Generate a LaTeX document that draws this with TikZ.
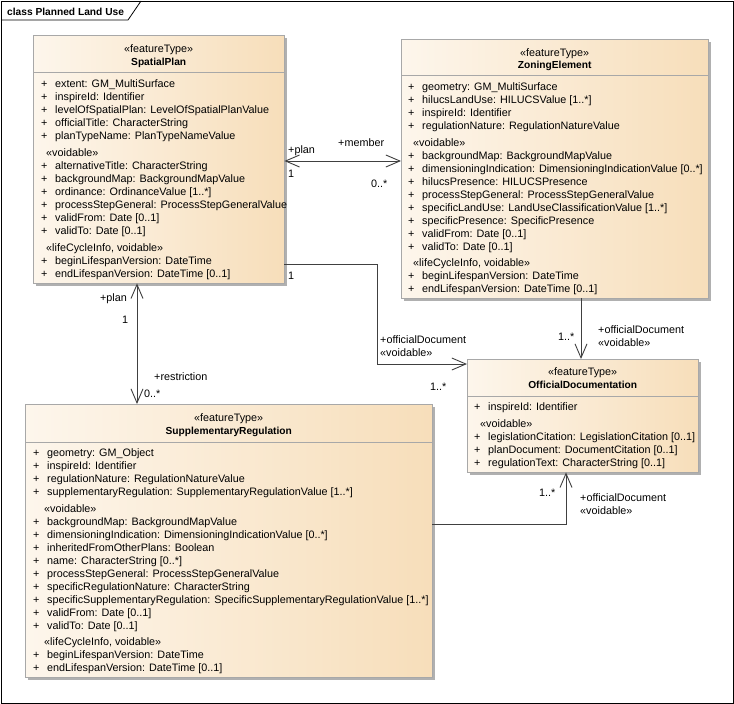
\documentclass[tikz,border=0pt]{standalone}
\usepackage{fontspec}
\setmainfont{Liberation Sans}
\usetikzlibrary{calc, positioning, shadows, arrows.meta}
\definecolor{boxleft}{HTML}{FDF6EC}
\definecolor{boxright}{HTML}{F7DEBA}
\definecolor{boxline}{HTML}{A8A8A8}
\definecolor{shadowgray}{HTML}{B0B0B0}
\definecolor{assocline}{HTML}{404040}

\begin{document}
\begin{tikzpicture}[x=1pt,y=-1pt,
    font=\fontsize{10.8}{13}\selectfont,
    classbox/.style={draw=boxline,left color=boxleft,right color=boxright,anchor=north west,inner sep=0pt,
      drop shadow={shadow xshift=3pt,shadow yshift=-3pt,opacity=1,fill=shadowgray}},
    attr/.style={anchor=west,inner sep=0pt,text height=12pt,text depth=2.5pt},
    head/.style={inner sep=0pt,text height=12pt,text depth=2.5pt},
    cname/.style={head,font=\fontsize{10.2}{13}\selectfont\bfseries},
    assoc/.style={draw=assocline,line width=0.9pt},
    barb/.tip={Straight Barb[length=14pt,width=12pt]}]
       \useasboundingbox (0,0) rectangle (734,704);
       % frame
       \draw[line width=0.8pt] (1,1) rectangle (733,703);
       \draw[line width=0.8pt] (1,20) -- (128,20) -- (141,1);
       \node[cname,anchor=west] (title) at (7,11) {class Planned Land Use};
       % SpatialPlan
       \node[classbox,minimum width=251pt,minimum height=248pt] (sp) at (33,35) {};
       \node[head] (sp-st) at ($(sp.north)+(0,13)$) {«featureType»};
       \node[cname] (sp-nm) at ($(sp.north)+(0,26)$) {SpatialPlan};
       \draw[boxline] ($(sp.north west)+(0,37)$) -- ($(sp.north east)+(0,37)$);
       \foreach \t [count=\i from 0] in {extent: GM\_MultiSurface, inspireId: Identifier, levelOfSpatialPlan: LevelOfSpatialPlanValue, officialTitle: CharacterString, planTypeName: PlanTypeNameValue}
         {\node[attr] (sp-p\i) at (41,83+13*\i) {+}; \node[attr] (sp-a\i) at (55,83+13*\i) {\t};}
       \node[attr] (sp-v) at (46,152) {«voidable»};
       \foreach \t [count=\i from 0] in {alternativeTitle: CharacterString, backgroundMap: BackgroundMapValue, ordinance: OrdinanceValue [1..*], processStepGeneral: ProcessStepGeneralValue, validFrom: Date [0..1], validTo: Date [0..1]}
         {\node[attr] (sp-vp\i) at (41,165+13*\i) {+}; \node[attr] (sp-va\i) at (55,165+13*\i) {\t};}
       \node[attr] (sp-l) at (46,247) {«lifeCycleInfo, voidable»};
       \foreach \t [count=\i from 0] in {beginLifespanVersion: DateTime, endLifespanVersion: DateTime [0..1]}
         {\node[attr] (sp-lp\i) at (41,260+13*\i) {+}; \node[attr] (sp-la\i) at (55,260+13*\i) {\t};}
       % ZoningElement
       \node[classbox,minimum width=307pt,minimum height=259pt] (ze) at (401,39) {};
       \node[head] (ze-st) at ($(ze.north)+(0,13)$) {«featureType»};
       \node[cname] (ze-nm) at ($(ze.north)+(0,25)$) {ZoningElement};
       \draw[boxline] ($(ze.north west)+(0,36)$) -- ($(ze.north east)+(0,36)$);
       \foreach \t [count=\i from 0] in {geometry: GM\_MultiSurface, hilucsLandUse: HILUCSValue [1..*], inspireId: Identifier, regulationNature: RegulationNatureValue}
         {\node[attr] (ze-p\i) at (408,86+13*\i) {+}; \node[attr] (ze-a\i) at (422,86+13*\i) {\t};}
       \node[attr] (ze-v) at (413,142) {«voidable»};
       \foreach \t [count=\i from 0] in {backgroundMap: BackgroundMapValue, dimensioningIndication: DimensioningIndicationValue [0..*], hilucsPresence: HILUCSPresence, processStepGeneral: ProcessStepGeneralValue, specificLandUse: LandUseClassificationValue [1..*], specificPresence: SpecificPresence, validFrom: Date [0..1], validTo: Date [0..1]}
         {\node[attr] (ze-vp\i) at (408,155+13*\i) {+}; \node[attr] (ze-va\i) at (422,155+13*\i) {\t};}
       \node[attr] (ze-l) at (413,262) {«lifeCycleInfo, voidable»};
       \foreach \t [count=\i from 0] in {beginLifespanVersion: DateTime, endLifespanVersion: DateTime [0..1]}
         {\node[attr] (ze-lp\i) at (408,275+13*\i) {+}; \node[attr] (ze-la\i) at (422,275+13*\i) {\t};}
       % OfficialDocumentation
       \node[classbox,minimum width=231pt,minimum height=113pt] (od) at (467,359) {};
       \node[head] (od-st) at ($(od.north)+(0,12)$) {«featureType»};
       \node[cname] (od-nm) at ($(od.north)+(0,25)$) {OfficialDocumentation};
       \draw[boxline] ($(od.north west)+(0,37)$) -- ($(od.north east)+(0,37)$);
       \node[attr] (od-p0) at (474,406) {+};
       \node[attr] (od-a0) at (488,406) {inspireId: Identifier};
       \node[attr] (od-v) at (480,423) {«voidable»};
       \foreach \t [count=\i from 0] in {legislationCitation: LegislationCitation [0..1], planDocument: DocumentCitation [0..1], regulationText: CharacterString [0..1]}
         {\node[attr] (od-vp\i) at (474,436+13*\i) {+}; \node[attr] (od-va\i) at (488,436+13*\i) {\t};}
       % SupplementaryRegulation
       \node[classbox,minimum width=407pt,minimum height=273pt] (sr) at (25,404) {};
       \node[head] (sr-st) at ($(sr.north)+(0,13)$) {«featureType»};
       \node[cname] (sr-nm) at ($(sr.north)+(0,26)$) {SupplementaryRegulation};
       \draw[boxline] ($(sr.north west)+(0,38)$) -- ($(sr.north east)+(0,38)$);
       \foreach \t [count=\i from 0] in {geometry: GM\_Object, inspireId: Identifier, regulationNature: RegulationNatureValue, supplementaryRegulation: SupplementaryRegulationValue [1..*]}
         {\node[attr] (sr-p\i) at (33,452+13*\i) {+}; \node[attr] (sr-a\i) at (47,452+13*\i) {\t};}
       \node[attr] (sr-v) at (44,508) {«voidable»};
       \foreach \t [count=\i from 0] in {backgroundMap: BackgroundMapValue, dimensioningIndication: DimensioningIndicationValue [0..*], inheritedFromOtherPlans: Boolean, name: CharacterString [0..*], processStepGeneral: ProcessStepGeneralValue, specificRegulationNature: CharacterString, specificSupplementaryRegulation: SpecificSupplementaryRegulationValue [1..*], validFrom: Date [0..1], validTo: Date [0..1]}
         {\node[attr] (sr-vp\i) at (33,521+13*\i) {+}; \node[attr] (sr-va\i) at (47,521+13*\i) {\t};}
       \node[attr] (sr-l) at (44,641) {«lifeCycleInfo, voidable»};
       \foreach \t [count=\i from 0] in {beginLifespanVersion: DateTime, endLifespanVersion: DateTime [0..1]}
         {\node[attr] (sr-lp\i) at (33,654+13*\i) {+}; \node[attr] (sr-la\i) at (47,654+13*\i) {\t};}
       % associations
       \draw[assoc,barb-barb] (sp.east |- 0,161) -- (ze.west |- 0,161);
       \node[attr] (spze-r1) at (288,149) {+plan};
       \node[attr] (spze-m1) at (288,173) {1};
       \node[attr] (spze-r2) at (338,142) {+member};
       \node[attr] (spze-m2) at (371,183) {0..*};
       \draw[assoc,-barb] (sp.east |- 0,264) -| (377,364) -- (od.west |- 0,364);
       \node[attr] (spod-m1) at (288,275) {1};
       \node[attr] (spod-r2) at (380,339) {+officialDocument};
       \node[attr] (spod-s2) at (380,352) {«voidable»};
       \node[attr] (spod-m2) at (430,386) {1..*};
       \draw[assoc,barb-barb] (137,0 |- sp.south) -- (137,0 |- sr.north);
       \node[attr,anchor=east] (spsr-r1) at (127,297) {+plan};
       \node[attr] (spsr-m1) at (122,319) {1};
       \node[attr] (spsr-r2) at (154,376) {+restriction};
       \node[attr] (spsr-m2) at (144,393) {0..*};
       \draw[assoc,-barb] (581,0 |- ze.south) -- (581,0 |- od.north);
       \node[attr] (zeod-m2) at (558,336) {1..*};
       \node[attr] (zeod-r2) at (598,329) {+officialDocument};
       \node[attr] (zeod-s2) at (598,342) {«voidable»};
       \draw[assoc,-barb] (sr.east |- 0,524) -| (566,0 |- od.south);
       \node[attr] (srod-m2) at (539,492) {1..*};
       \node[attr] (srod-r2) at (580,497) {+officialDocument};
       \node[attr] (srod-s2) at (580,510) {«voidable»};
     \end{tikzpicture}
\end{document}
